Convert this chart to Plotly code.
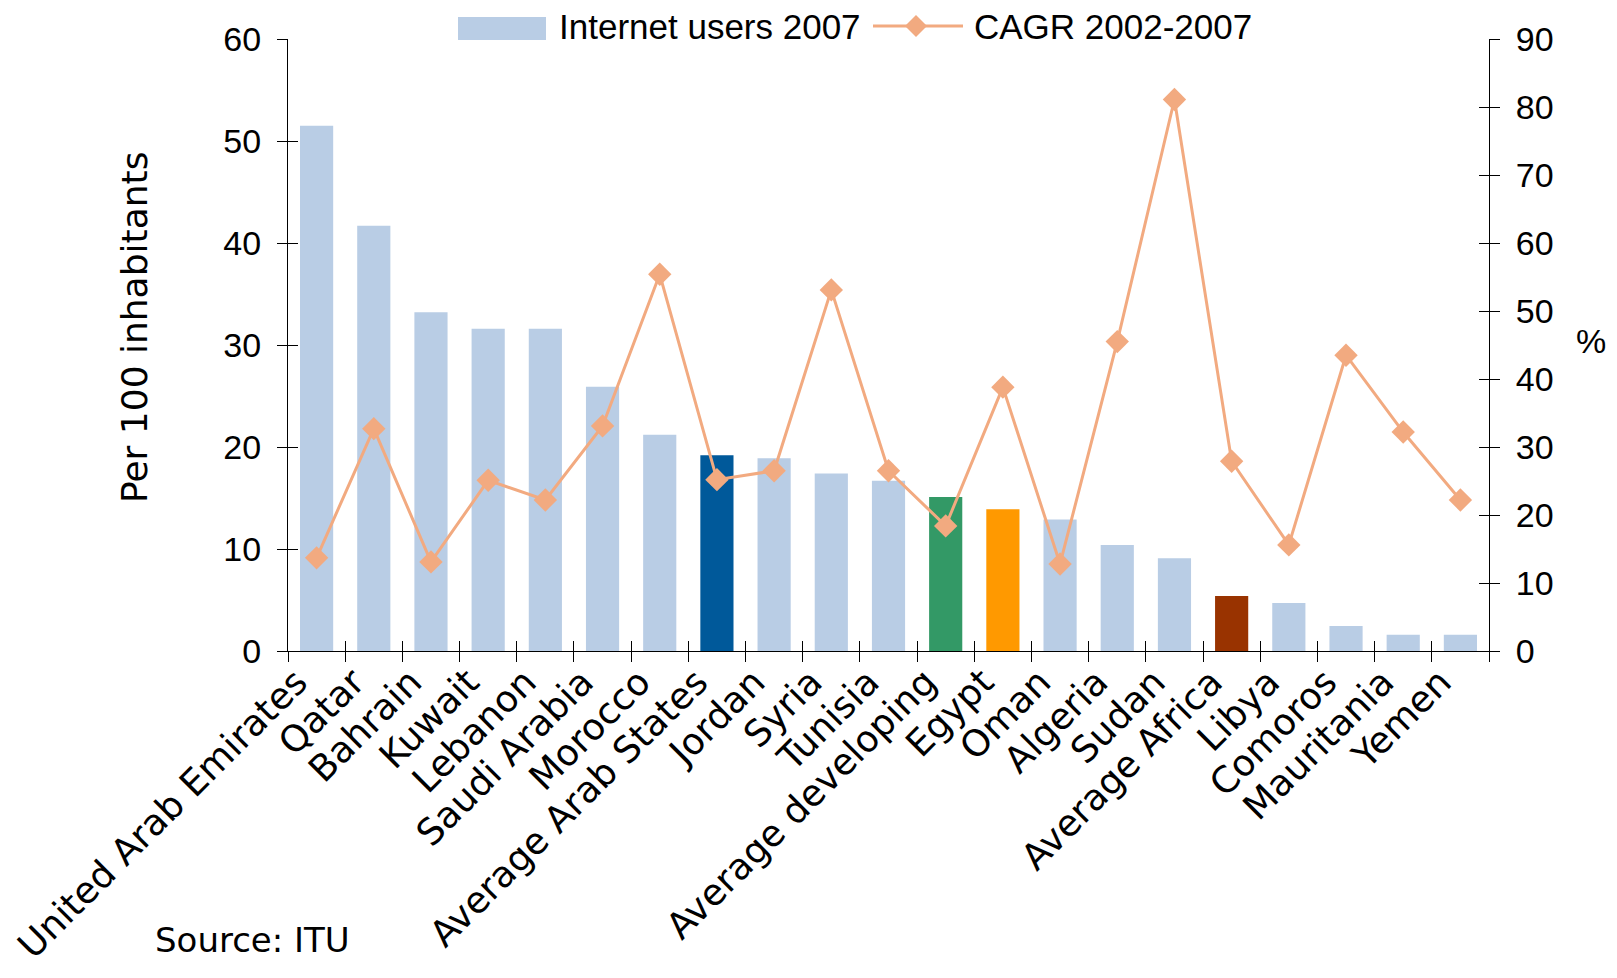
import plotly.graph_objects as go

# categories in chart order
countries = ["United Arab Emirates", "Qatar", "Bahrain", "Kuwait", "Lebanon",
             "Saudi Arabia", "Morocco", "Average Arab States", "Jordan", "Syria",
             "Tunisia", "Average developing", "Egypt", "Oman", "Algeria", "Sudan",
             "Average Africa", "Libya", "Comoros", "Mauritania", "Yemen"]

# Internet users per 100 inhabitants, 2007
users_2007 = [51.5, 41.7, 33.2, 31.6, 31.6, 25.9, 21.2, 19.2, 18.9, 17.4, 16.7,
              15.1, 13.9, 12.9, 10.4, 9.1, 5.4, 4.7, 2.45, 1.6, 1.6]

# CAGR 2002-2007 (%)
cagr = [13.7, 32.7, 13.1, 25.1, 22.2, 33.1, 55.4, 25.2, 26.5, 53.1, 26.5,
        18.4, 38.8, 12.8, 45.5, 81.1, 27.9, 15.6, 43.5, 32.2, 22.2]

# highlighted bars
highlight = {"Average Arab States": "#00599A", "Average developing": "#339966",
             "Egypt": "#FF9900", "Average Africa": "#993300"}
BAR_BLUE = "#B9CDE5"
LINE_COL = "#F2AA80"
bar_colors = [highlight.get(c, BAR_BLUE) for c in countries]

ARIAL = "Liberation Sans, Arial, sans-serif"
VERD = "DejaVu Sans, Verdana, sans-serif"

# plot area in pixels (left, right, top, bottom)
L, R, T, B = 288, 1489, 39, 651
W, H = 1617, 978


def px(x):
    return (x - L) / (R - L)


def py(y):
    return (B - y) / (B - T)


fig = go.Figure()
fig.add_trace(go.Bar(x=countries, y=users_2007, name="Internet users 2007",
                     marker=dict(color=bar_colors, line=dict(width=0))))
fig.add_trace(go.Scatter(x=countries, y=cagr, name="CAGR 2002-2007", yaxis="y2",
                         mode="lines+markers",
                         line=dict(color=LINE_COL, width=3),
                         marker=dict(symbol="diamond", size=18, color=LINE_COL)))
# empty traces so the overlay axes (inside half of the crossing ticks) get drawn
fig.add_trace(go.Scatter(x=[], y=[], xaxis="x2", yaxis="y3", showlegend=False))
fig.add_trace(go.Scatter(x=[], y=[], xaxis="x2", yaxis="y4", showlegend=False))

tick_common = dict(ticklen=10, tickwidth=1, tickcolor="black", showgrid=False,
                   zeroline=False, automargin=False)

# hand-made legend (wide swatches like the original)
lx, ly = 916, 26
shapes = [
    dict(type="rect", xref="paper", yref="paper", x0=px(458), x1=px(546),
         y0=py(40), y1=py(17), fillcolor=BAR_BLUE, line=dict(width=0)),
    dict(type="line", xref="paper", yref="paper", x0=px(873), x1=px(963),
         y0=py(ly), y1=py(ly), line=dict(color=LINE_COL, width=3)),
    dict(type="path", xref="paper", yref="paper", fillcolor=LINE_COL, line=dict(width=0),
         path="M {} {} L {} {} L {} {} L {} {} Z".format(
             px(lx - 11), py(ly), px(lx), py(ly - 11), px(lx + 11), py(ly), px(lx), py(ly + 11))),
]

fig.update_layout(
    width=W, height=H,
    margin=dict(l=L, r=W - R, t=T, b=H - B, autoexpand=False),
    paper_bgcolor="white", plot_bgcolor="white",
    bargap=0.42,
    showlegend=False,
    xaxis=dict(type="category", range=[-0.5, 20.5], tickangle=-45, tickson="boundaries",
               ticks="outside", showline=True, linecolor="black", linewidth=1,
               ticklabelshift=-20, ticklabelstandoff=-6,
               tickfont=dict(family=VERD, size=36.5, color="black"), **tick_common),
    xaxis2=dict(overlaying="x", anchor="y", range=[-0.5, 20.5], tick0=-0.5, dtick=1,
                ticks="inside", showticklabels=False, showline=False, **tick_common),
    yaxis=dict(range=[0, 60], dtick=10, ticks="outside", showline=True,
               linecolor="black", linewidth=1, ticklabelstandoff=9,
               tickfont=dict(family=ARIAL, size=34, color="black"), **tick_common),
    yaxis2=dict(overlaying="y", side="right", range=[0, 90], dtick=10, ticks="outside",
                showline=True, linecolor="black", linewidth=1, ticklabelstandoff=9,
                tickfont=dict(family=ARIAL, size=34, color="black"), **tick_common),
    yaxis3=dict(overlaying="y", anchor="x2", side="left", range=[0, 60], dtick=10,
                ticks="inside", showticklabels=False, showline=False, **tick_common),
    yaxis4=dict(overlaying="y", anchor="x2", side="right", range=[0, 90], dtick=10,
                ticks="inside", showticklabels=False, showline=False, **tick_common),
    shapes=shapes,
    annotations=[
        dict(text="Internet users 2007", xref="paper", yref="paper", x=px(557), y=py(ly),
             xanchor="left", yanchor="middle", showarrow=False,
             font=dict(family=ARIAL, size=35, color="black")),
        dict(text="CAGR 2002-2007", xref="paper", yref="paper", x=px(972), y=py(ly),
             xanchor="left", yanchor="middle", showarrow=False,
             font=dict(family=ARIAL, size=35, color="black")),
        dict(text="Per 100 inhabitants", textangle=-90, xref="paper", yref="paper",
             x=px(134), y=py(328), xanchor="center", yanchor="middle", showarrow=False,
             font=dict(family=VERD, size=36, color="black")),
        dict(text="%", xref="paper", yref="paper", x=px(1591), y=py(341),
             xanchor="center", yanchor="middle", showarrow=False,
             font=dict(family=ARIAL, size=34, color="black")),
        dict(text="Source: ITU", xref="paper", yref="paper", x=px(153), y=py(940),
             xanchor="left", yanchor="middle", showarrow=False,
             font=dict(family=VERD, size=34, color="black")),
    ],
)

# drop the default page margin so the figure sits at the window origin
fig.write_html("out.html", config={"displayModeBar": False},
               post_script="document.body.style.margin='0';")
